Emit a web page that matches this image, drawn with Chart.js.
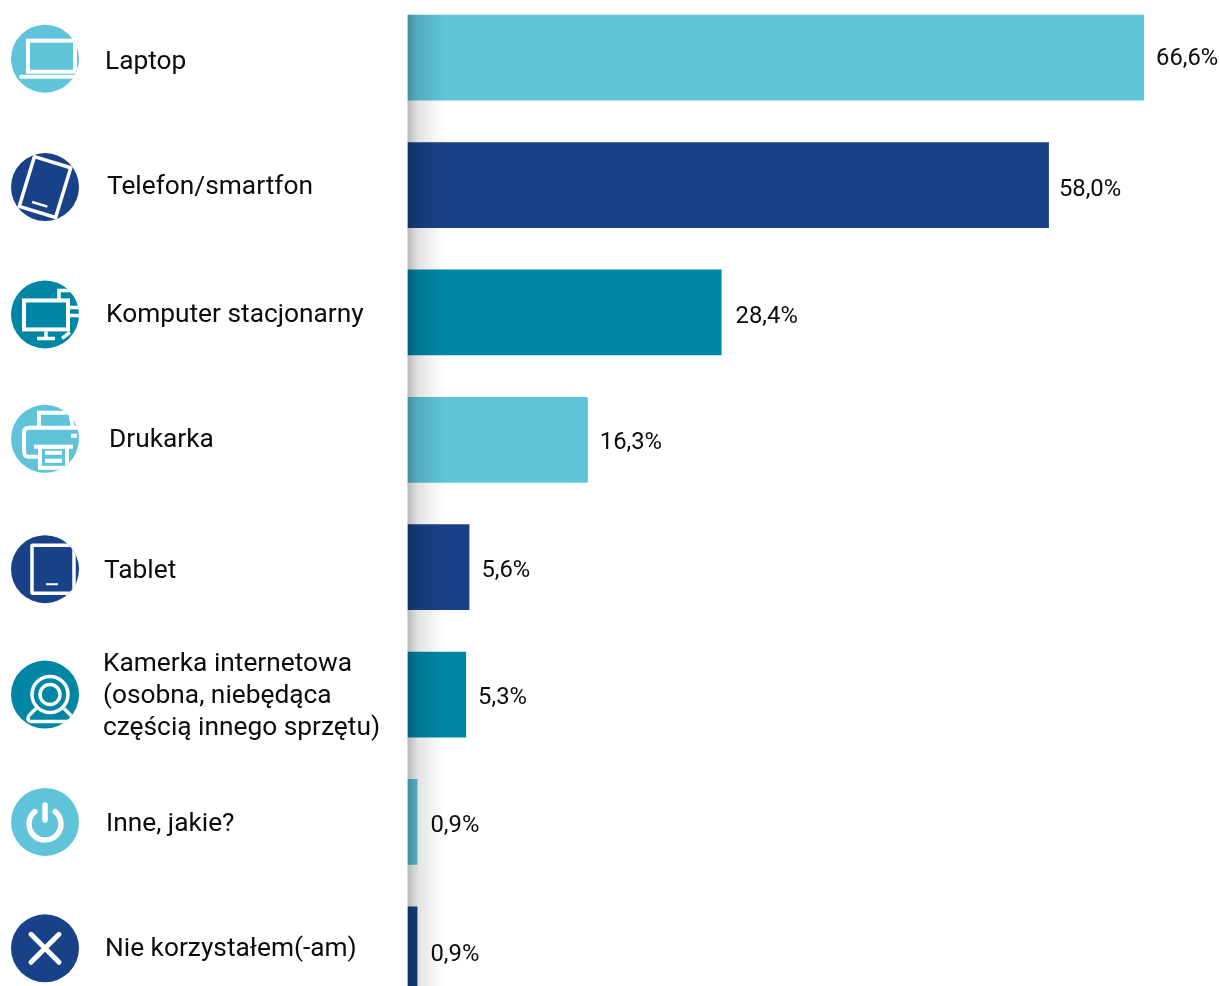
<!DOCTYPE html>
<html>
<head>
<meta charset="utf-8">
<style>
  html, body { margin: 0; padding: 0; background: #fff; overflow: hidden; height: 986px; }
  #wrap { position: absolute; left: 0; top: -6px; width: 1220px; height: 1019px; }
</style>
<script src="https://cdn.jsdelivr.net/npm/chart.js@4"></script>
</head>
<body>
<div id="wrap"><canvas id="chart"></canvas></div>
<script>
var categories = ['Laptop', 'Telefon/smartfon', 'Komputer stacjonarny', 'Drukarka', 'Tablet',
  ['Kamerka internetowa', '(osobna, niebędąca', 'częścią innego sprzętu)'], 'Inne, jakie?', 'Nie korzystałem(-am)'];
var values = [66.6, 58.0, 28.4, 16.3, 5.6, 5.3, 0.9, 0.9];
var barColors = ['#5fc3da', '#184187', '#0086a5', '#5fc3da', '#184187', '#0086a5', '#5fc3da', '#184187'];
var iconNames = ['laptop', 'phone', 'desktop', 'printer', 'tablet', 'webcam', 'power', 'cross'];
// small per-row shifts of the hand-placed labels and icons
var labelShiftX = [105, 107, 106, 109, 104, 103, 106, 105];
var labelShiftY = [5, 2, 3, 1, 4, 2, 2, 0];
var iconShiftY = [1, 2, 2, -1, 2, 0, 0, -1];
var valueShiftX = [12, 10, 14, 12, 12, 12, 13, 13];
var valueShiftY = [1, 5, 5, 3, 4, 3, 4, 6];

function roundBox(c, x, y, w, h, r) {
  c.beginPath();
  c.roundRect(x, y, w, h, r);
  c.stroke();
}

// white line icons, drawn around the circle centre
var icons = {
  laptop: function (c) {
    c.lineWidth = 4;
    c.strokeRect(-17, -18, 47, 31);
    c.lineCap = 'round';
    c.beginPath(); c.moveTo(-24, 18); c.lineTo(33, 18); c.stroke();
  },
  phone: function (c) {
    c.save();
    c.rotate(17 * Math.PI / 180);
    c.lineWidth = 3.5;
    c.strokeRect(-19, -26, 38, 52);
    c.lineWidth = 2.5;
    c.beginPath(); c.moveTo(-8, 18); c.lineTo(8, 18); c.stroke();
    c.restore();
  },
  desktop: function (c) {
    c.lineWidth = 4;
    c.strokeRect(-21, -14, 44, 29);
    c.lineWidth = 3.5;
    c.beginPath();
    c.moveTo(1, 17); c.lineTo(1, 24);
    c.moveTo(-8, 24); c.lineTo(10, 24);
    c.stroke();
    c.beginPath();
    c.moveTo(14, -14); c.lineTo(14, -24); c.lineTo(34, -24);
    c.moveTo(25, -7); c.lineTo(35, -7);
    c.moveTo(25, 1); c.lineTo(35, 1);
    c.moveTo(25, 18); c.lineTo(17, 24);
    c.stroke();
  },
  printer: function (c) {
    c.lineWidth = 4;
    c.beginPath();
    c.moveTo(-7, 18); c.lineTo(-16, 18);
    c.quadraticCurveTo(-21, 18, -21, 12);
    c.lineTo(-21, -6);
    c.quadraticCurveTo(-21, -11, -16, -11);
    c.lineTo(33, -11);
    c.stroke();
    c.strokeRect(-5, 8, 27, 21);
    c.beginPath();
    c.moveTo(-11, 8); c.lineTo(28, 8);
    c.moveTo(-6, -11); c.lineTo(-6, -26); c.lineTo(25, -26); c.lineTo(28, -11);
    c.moveTo(0, 14); c.lineTo(17, 14);
    c.moveTo(0, 22); c.lineTo(17, 22);
    c.moveTo(26, -3); c.lineTo(32, -3);
    c.stroke();
  },
  tablet: function (c) {
    c.lineWidth = 3.5;
    roundBox(c, -13, -24, 42, 48, 1);
    c.lineWidth = 2;
    c.beginPath(); c.moveTo(1, 15); c.lineTo(13, 15); c.stroke();
  },
  webcam: function (c) {
    c.lineWidth = 3.5;
    c.beginPath(); c.arc(5, 0, 18, 0, Math.PI * 2); c.stroke();
    c.beginPath(); c.arc(5, 0, 10, 0, Math.PI * 2); c.stroke();
    c.beginPath();
    c.moveTo(-9, 14); c.lineTo(-16, 21);
    c.quadraticCurveTo(-19, 27, -13, 27);
    c.lineTo(22, 27);
    c.quadraticCurveTo(29, 27, 26, 21);
    c.lineTo(19, 14);
    c.stroke();
  },
  power: function (c) {
    c.lineWidth = 5.5;
    c.lineCap = 'round';
    c.beginPath(); c.arc(0, 2, 16, -0.28 * Math.PI, 1.28 * Math.PI); c.stroke();
    c.beginPath(); c.moveTo(0, -17); c.lineTo(0, -2); c.stroke();
  },
  cross: function (c) {
    c.lineWidth = 5;
    c.lineCap = 'round';
    c.beginPath();
    c.moveTo(-14, -14); c.lineTo(14, 14);
    c.moveTo(14, -14); c.lineTo(-14, 14);
    c.stroke();
  }
};

// soft shadow along the base of the bars
var baseShadow = {
  id: 'baseShadow',
  afterDatasetsDraw: function (chart) {
    var c = chart.ctx;
    var x0 = chart.scales.x.getPixelForValue(0);
    var first = chart.getDatasetMeta(0).data[0];
    var top = first.y - first.height / 2;
    var g = c.createLinearGradient(x0, 0, x0 + 36, 0);
    g.addColorStop(0, 'rgba(0,0,0,0.28)');
    g.addColorStop(0.3, 'rgba(0,0,0,0.11)');
    g.addColorStop(1, 'rgba(0,0,0,0)');
    c.save();
    c.fillStyle = g;
    c.fillRect(x0, top, 36, chart.chartArea.bottom - top);
    c.restore();
  }
};

// category text + round icon on the left, value text behind the bar
var rowLabels = {
  id: 'rowLabels',
  afterDraw: function (chart) {
    var c = chart.ctx;
    var yScale = chart.scales.y;
    var bars = chart.getDatasetMeta(0).data;
    c.save();
    c.textBaseline = 'middle';
    c.textAlign = 'left';
    c.fillStyle = '#0c0c0c';
    categories.forEach(function (cat, i) {
      var y = yScale.getPixelForValue(i);
      c.font = '26.3px Roboto';
      var lines = Array.isArray(cat) ? cat : [cat];
      lines.forEach(function (line, n) {
        c.fillText(line, labelShiftX[i], y + labelShiftY[i] + (n - (lines.length - 1) / 2) * 32);
      });

      c.font = '23.8px Roboto';
      c.fillText(values[i].toFixed(1).replace('.', ',') + '%', bars[i].x + valueShiftX[i], y + valueShiftY[i]);

      c.save();
      c.translate(45, y + iconShiftY[i]);
      c.beginPath();
      c.arc(0, 0, 34, 0, Math.PI * 2);
      c.fillStyle = barColors[i];
      c.fill();
      c.clip();
      c.strokeStyle = '#fff';
      icons[iconNames[i]](c);
      c.restore();
    });
    c.restore();
  }
};

document.fonts.load('26px Roboto').then(function () {
  new Chart(document.getElementById('chart'), {
    type: 'bar',
    data: {
      labels: categories,
      datasets: [{
        data: values,
        backgroundColor: barColors,
        borderWidth: 0,
        barPercentage: 1,
        categoryPercentage: 0.674
      }]
    },
    options: {
      indexAxis: 'y',
      responsive: true,
      maintainAspectRatio: false,
      animation: false,
      layout: { padding: { left: 407.5 } },
      plugins: { legend: { display: false }, tooltip: { enabled: false } },
      scales: {
        x: { display: false, min: 0, max: 73.47 },
        y: { display: false }
      }
    },
    plugins: [baseShadow, rowLabels]
  });
});
</script>
</body>
</html>
